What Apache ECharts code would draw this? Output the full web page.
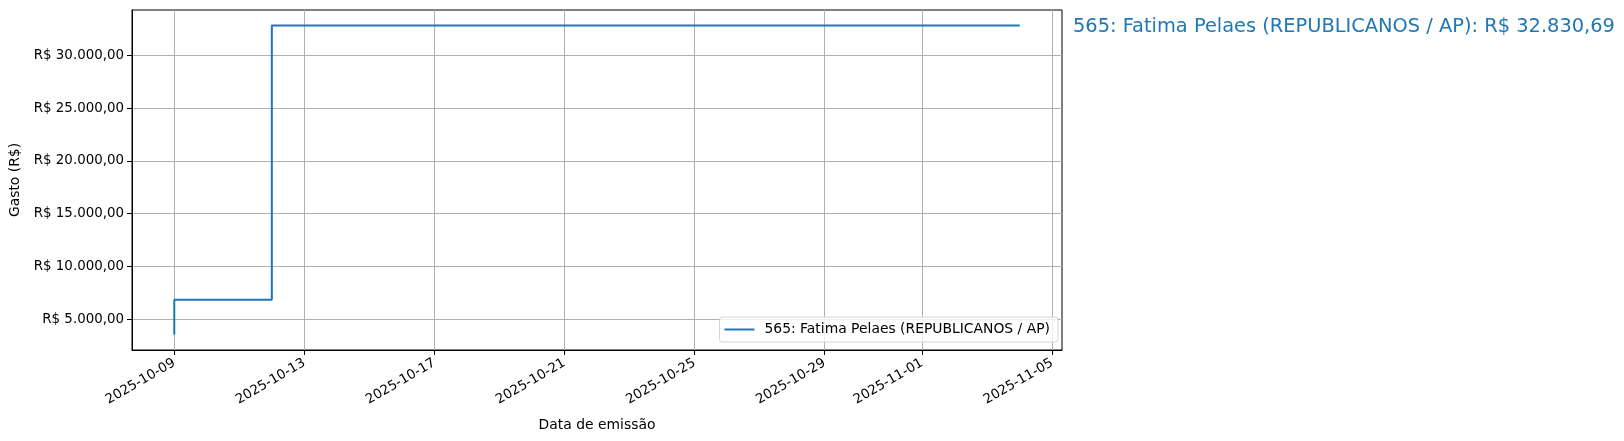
<!DOCTYPE html>
<html>
<head>
<meta charset="utf-8">
<script src="https://cdn.jsdelivr.net/npm/echarts@6/dist/echarts.min.js"></script>
<style>
html,body{margin:0;padding:0;background:#fff;}
#chart{width:1624px;height:441px;}
</style>
</head>
<body>
<div id="chart"></div>
<script>
// ---- data ----
const seriesName = '565: Fatima Pelaes (REPUBLICANOS / AP)';
const dates = ['2025-10-09', '2025-10-09', '2025-10-12', '2025-11-04'];
const values = [3550, 6850, 32830.69, 32830.69];
const xTickLabels = ['2025-10-09', '2025-10-13', '2025-10-17', '2025-10-21', '2025-10-25', '2025-10-29', '2025-11-01', '2025-11-05'];
const yTickValues = [5000, 10000, 15000, 20000, 25000, 30000];

// ---- helpers ----
function ts(s) { const p = s.split('-').map(Number); return Date.UTC(p[0], p[1] - 1, p[2]); }
function pad(n) { return (n < 10 ? '0' : '') + n; }
function fmtDate(v) { const d = new Date(v); return d.getUTCFullYear() + '-' + pad(d.getUTCMonth() + 1) + '-' + pad(d.getUTCDate()); }
function brl(v) {
  const parts = v.toFixed(2).split('.');
  const intPart = parts[0].replace(/\B(?=(\d{3})+(?!\d))/g, '.');
  return 'R$ ' + intPart + ',' + parts[1];
}

const xs = dates.map(ts);
const xMinD = Math.min(...xs), xMaxD = Math.max(...xs);
const xPad = (xMaxD - xMinD) * 0.05;
const yMinD = Math.min(...values), yMaxD = Math.max(...values);
const yPad = (yMaxD - yMinD) * 0.05;

const data = xs.map((x, i) => [x, values[i]]);
const font = 'DejaVu Sans';
const fs = 13.9;
const tfs = 13.4;

const chart = echarts.init(document.getElementById('chart'), null, { renderer: 'canvas' });
chart.setOption({
  animation: false,
  backgroundColor: '#fff',
  title: {
    text: seriesName + ': ' + brl(values[values.length - 1]),
    left: 1068, top: 12,
    textStyle: { color: '#1f77b4', fontFamily: font, fontSize: 19.4, fontWeight: 'normal' }
  },
  legend: {
    data: [seriesName],
    right: 566, bottom: 99,
    orient: 'horizontal',
    icon: 'rect', itemWidth: 30, itemHeight: 2,
    padding: [5, 8, 5, 5],
    borderColor: '#d5d5d5', borderWidth: 1, borderRadius: 3,
    backgroundColor: 'rgba(255,255,255,0.8)',
    textStyle: { fontFamily: font, fontSize: fs, color: '#000', padding: [0, 0, 0, 5], lineHeight: 15 }
  },
  grid: {
    left: 132, right: 562, top: 10, bottom: 91,
    outerBoundsMode: 'none', containLabel: false,
    show: true, borderColor: '#000', borderWidth: 1, backgroundColor: 'transparent'
  },
  xAxis: {
    type: 'value',
    min: xMinD - xPad, max: xMaxD + xPad,
    name: 'Data de emissão', nameLocation: 'middle', nameGap: 68,
    nameTextStyle: { fontFamily: font, fontSize: fs, color: '#000' },
    axisLine: { show: true, onZero: false, lineStyle: { color: '#000', width: 1 } },
    axisTick: { show: true, length: 5, lineStyle: { color: '#000' }, customValues: xTickLabels.map(ts) },
    axisLabel: {
      rotate: 30, margin: 12, fontFamily: font, fontSize: tfs, color: '#000',
      customValues: xTickLabels.map(ts),
      formatter: v => fmtDate(v)
    },
    splitLine: { show: true, lineStyle: { color: '#b0b0b0', width: 1 } }
  },
  yAxis: {
    type: 'value',
    min: yMinD - yPad, max: yMaxD + yPad,
    name: 'Gasto (R$)', nameLocation: 'middle', nameGap: 100, nameRotate: 90,
    nameTextStyle: { fontFamily: font, fontSize: fs, color: '#000' },
    axisLine: { show: true, onZero: false, lineStyle: { color: '#000', width: 1 } },
    axisTick: { show: true, length: 5, lineStyle: { color: '#000' }, customValues: yTickValues },
    axisLabel: {
      margin: 8, fontFamily: font, fontSize: tfs, color: '#000',
      customValues: yTickValues,
      formatter: v => brl(v)
    },
    splitLine: { show: true, lineStyle: { color: '#b0b0b0', width: 1 } }
  },
  series: [{
    name: seriesName,
    type: 'line',
    step: 'end',
    data: data,
    showSymbol: false,
    symbol: 'none',
    lineStyle: { color: '#1f77b4', width: 2 },
    itemStyle: { color: '#1f77b4' }
  }]
});
</script>
</body>
</html>
